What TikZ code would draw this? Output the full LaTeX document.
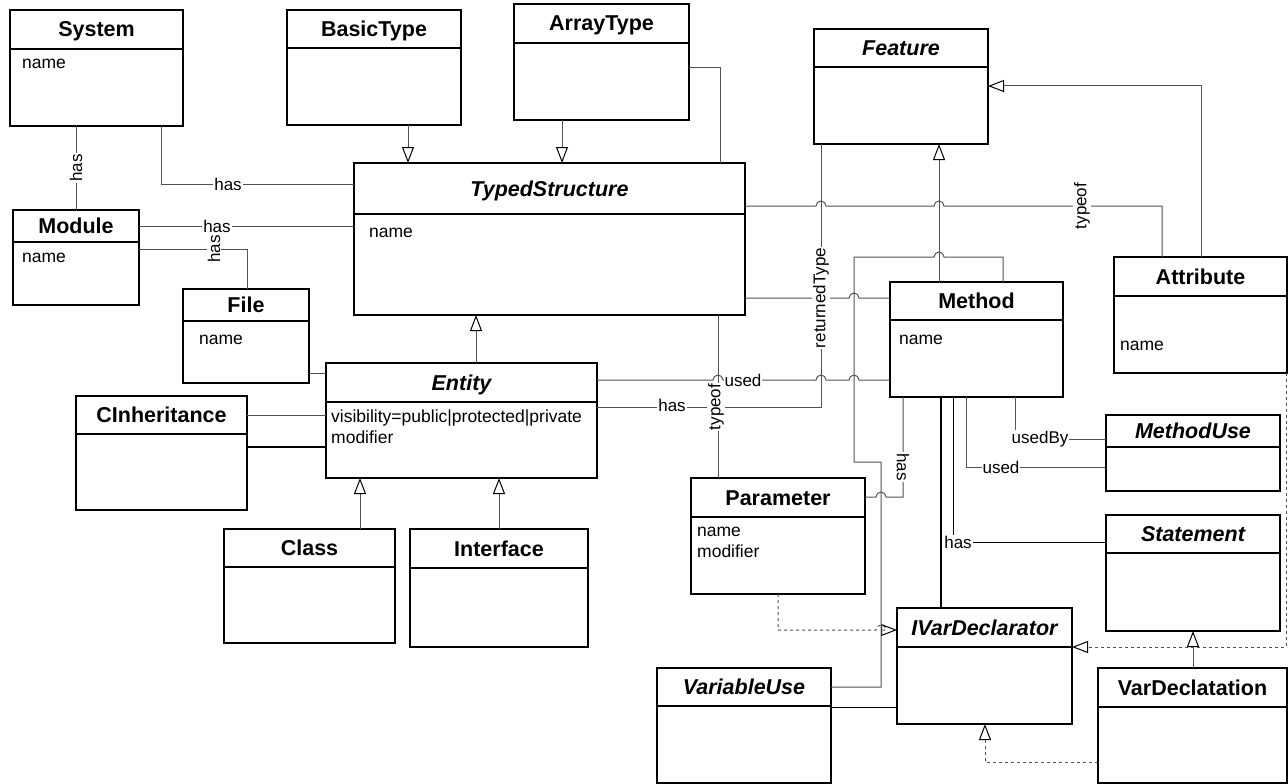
\documentclass[tikz,border=0pt]{standalone}
\usepackage{fontspec}
\setmainfont{Liberation Sans}
\usetikzlibrary{arrows.meta}
\begin{document}
\begin{tikzpicture}[x=1pt,y=-1pt]
% font of titles and texts
\def\ttlfont{\fontsize{21.5}{24}\selectfont\bfseries}
\def\txtfont{\fontsize{17.5}{21}\selectfont}
% node style definition
\tikzstyle{classbox} = [
	draw, line width=1.2pt, rectangle, inner sep=0pt, outer sep=0pt,
	anchor=north west ];
\tikzstyle{clsname} = [font=\ttlfont, inner sep=0pt, anchor=base];
\tikzstyle{attr} = [font=\txtfont, inner sep=0pt, anchor=base west];
\tikzstyle{lbl} = [font=\fontsize{17}{20}\selectfont, fill=white, inner sep=1pt];
% line style definition
\tikzstyle{assoc} = [draw=black!68, line width=1pt];
\tikzstyle{strong} = [draw=black, line width=1.5pt];
\tikzstyle{inherit} = [assoc, -{Triangle[open, width=12pt, length=16pt, color=black]}];
\tikzstyle{realize} = [inherit, dashed];
\useasboundingbox (0,0) rectangle (1288,784);
% class boxes: name/left/top/right/bottom/header/abstract/title
\foreach \nm/\xa/\ya/\xb/\yb/\hh/\isabs/\ttl in {
	system/10/10/183/126/39/0/System,
	basictype/287/10/461/125/38/0/BasicType,
	arraytype/514/4/689/120/39/0/ArrayType,
	module/13/210/139/305/32/0/Module,
	file/183/289/309/383/32/0/File,
	typedstruct/354/163/745/315/51/1/TypedStructure,
	feature/814/29/988/144/38/1/Feature,
	method/890/282/1063/397/38/0/Method,
	attribute/1114/257/1287/373/39/0/Attribute,
	entity/326/363/597/478/39/1/Entity,
	cinherit/76/396/247/510/38/0/CInheritance,
	class/224/529/395/643/38/0/Class,
	interface/410/529/588/647/39/0/Interface,
	parameter/691/478/865/594/39/0/Parameter,
	variableuse/657/668/831/783/38/1/VariableUse,
	ivardecl/897/608/1072/724/39/1/IVarDeclarator,
	methoduse/1106/415/1280/491/32/1/MethodUse,
	statement/1106/515/1280/631/38/1/Statement,
	vardecl/1098/668/1287/783/39/0/VarDeclatation}
{
	\pgfmathsetmacro{\bw}{\xb-\xa}
	\pgfmathsetmacro{\bh}{\yb-\ya}
	\node[classbox, minimum width=\bw pt, minimum height=\bh pt] (\nm) at (\xa,\ya) {};
	\draw[line width=1.2pt] ([yshift=-\hh pt]\nm.north west) -- ([yshift=-\hh pt]\nm.north east);
	\node[clsname] (\nm-t) at ({(\xa+\xb)/2},{\ya+\hh/2+7.5}) {\ifnum\isabs=1 \itshape\fi\ttl};
}
% attributes
\node[attr] (system-a) at (22,69) {name};
\node[attr] (module-a) at (22,262) {name};
\node[attr] (file-a) at (199,344) {name};
\node[attr] (typedstruct-a) at (369,237) {name};
\node[attr] (method-a) at (899,344) {name};
\node[attr] (attribute-a) at (1120,350) {name};
\node[attr] (entity-a) at (331,422) {visibility=public|protected|private};
\node[attr] (entity-b) at (331,443) {modifier};
\node[attr] (parameter-a) at (697,536) {name};
\node[attr] (parameter-b) at (697,557) {modifier};
% generalizations
\draw[inherit] (basictype.south -| 408,0) -- (typedstruct.north -| 408,0);
\draw[inherit] (arraytype.south -| 562,0) -- (typedstruct.north -| 562,0);
\draw[inherit] (entity.north -| 476,0) -- (typedstruct.south -| 476,0);
\draw[inherit] (class.north -| 360,0) -- (entity.south -| 360,0);
\draw[inherit] (interface.north -| 499,0) -- (entity.south -| 499,0);
\draw[inherit] (method.north -| 939,0) -- (feature.south -| 939,0);
\draw[inherit] (attribute.north -| 1201,0) |- (feature.east |- 0,86);
\draw[inherit] (vardecl.north -| 1193,0) -- (statement.south -| 1193,0);
% realizations
\draw[realize] (parameter.south -| 778,0) -- (778,630) -- (876,630)
	arc[start angle=180, end angle=0, radius=5pt] -- (ivardecl.west |- 0,630);
\draw[realize] (attribute.south -| 1286,0) |- (ivardecl.east |- 0,647);
\draw[realize] (vardecl.west |- 0,762) -| (ivardecl.south -| 985,0);
% associations
\draw[assoc] (system.south -| 76,0) -- (module.north -| 76,0);
\draw[assoc] (system.south -| 161,0) |- (typedstruct.west |- 0,184);
\draw[assoc] (module.east |- 0,226) -- (typedstruct.west |- 0,226);
\draw[assoc] (module.east |- 0,249) -| (file.north -| 247,0);
\draw[assoc] (file.east |- 0,373) -- (entity.west |- 0,373);
\draw[assoc] (cinherit.east |- 0,415) -- (entity.west |- 0,415);
\draw[strong] (cinherit.east |- 0,447) -- (entity.west |- 0,447);
\draw[assoc] (arraytype.east |- 0,68) -| (typedstruct.north -| 720,0);
\draw[assoc] (typedstruct.east |- 0,206) -- (816,206)
	arc[start angle=180, end angle=0, radius=5pt] -- (934,206)
	arc[start angle=180, end angle=0, radius=5pt] -- (1162,206) -- (attribute.north -| 1162,0);
\draw[assoc] (typedstruct.east |- 0,298) -- (849,298)
	arc[start angle=180, end angle=0, radius=5pt] -- (method.west |- 0,298);
\draw[assoc] (typedstruct.south -| 718,0) -- (parameter.north -| 718,0);
\draw[assoc] (entity.east |- 0,380) -- (713,380)
	arc[start angle=180, end angle=0, radius=5pt] -- (816,380)
	arc[start angle=180, end angle=0, radius=5pt] -- (849,380)
	arc[start angle=180, end angle=0, radius=5pt] -- (method.west |- 0,380);
\draw[assoc] (entity.east |- 0,407) -| (feature.south -| 821,0);
\draw[assoc] (method.north -| 1003,0) -- (1003,257) -- (944,257)
	arc[start angle=0, end angle=180, radius=5pt] -- (854,257) -- (854,462)
	-- (881,462) |- (variableuse.east |- 0,687);
\draw[assoc] (parameter.east |- 0,497) -- (876,497)
	arc[start angle=180, end angle=0, radius=5pt] -| (method.south -| 903,0);
\draw[draw=black, line width=1pt] (variableuse.east |- 0,707) -- (ivardecl.west |- 0,707);
\draw[strong] (method.south -| 941,0) -- (ivardecl.north -| 941,0);
\draw[draw=black, line width=1pt] (method.south -| 953,0) |- (statement.west |- 0,542);
\draw[assoc] (method.south -| 966,0) |- (methoduse.west |- 0,467);
\draw[assoc] (method.south -| 1015,0) |- (methoduse.west |- 0,439);
% labels
\node[lbl, rotate=90] (l-sysmod) at (76,168) {has};
\node[lbl] (l-systs) at (228,184) {has};
\node[lbl] (l-modts) at (217,226) {has};
\node[lbl, rotate=90] (l-modfile) at (214,249) {has};
\node[lbl, rotate=90] (l-typeof1) at (1082,206) {typeof};
\node[lbl, rotate=90] (l-rettype) at (821,298) {returnedType};
\node[lbl] (l-used1) at (743,380) {used};
\node[lbl] (l-has1) at (672,405) {has};
\node[lbl, rotate=90] (l-typeof2) at (716,407) {typeof};
\node[lbl, rotate=-90] (l-parhas) at (903,467) {has};
\node[lbl] (l-usedby) at (1040,439) {usedBy};
\node[lbl] (l-used2) at (1001,467) {used};
\node[lbl] (l-has2) at (958,542) {has};
\end{tikzpicture}
\end{document}
